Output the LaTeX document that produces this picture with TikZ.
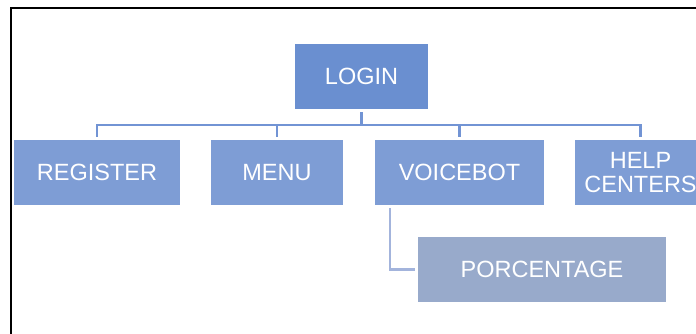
\documentclass[tikz,border=0pt]{standalone}
\usepackage{fontspec}
\setmainfont{Liberation Sans}
\usetikzlibrary{positioning}

\definecolor{topblue}{HTML}{6A8FD0}
\definecolor{midblue}{HTML}{7E9DD5}
\definecolor{lowblue}{HTML}{98AACB}
\definecolor{linkblue}{HTML}{7294D4}
\definecolor{sublinkblue}{HTML}{A3B4DC}

\begin{document}
\begin{tikzpicture}[x=1pt,y=-1pt,
  box/.style={fill=midblue,text=white,minimum height=65pt,inner sep=0pt,
    outer sep=3pt,align=center,font=\fontsize{23.5}{24}\selectfont},
  link/.style={draw=linkblue,line width=2.5pt},
  sublink/.style={draw=sublinkblue,line width=2.5pt}]
% page is 696 x 333, one unit per pixel; the right box runs off the edge
\clip (0,0) rectangle (696,333);
\fill[white] (0,0) rectangle (696,333);
\draw[line width=2pt] (11,8) rectangle (720,360);

% top level
\node[box,fill=topblue,minimum width=133pt] (login) at (361.5,76.5) {LOGIN};

% second level
\node[box,minimum width=166pt] (register) at (97,172.5) {REGISTER};
\node[box,minimum width=132pt] (menu) at (277,172.5) {MENU};
\node[box,minimum width=169pt] (voicebot) at (459.5,172.5) {VOICEBOT};
\node[box,minimum width=131pt] (help) at (640.5,172.5) {HELP\\CENTERS};

% third level
\node[box,fill=lowblue,minimum width=248pt] (percent) at (542,269.5) {PORCENTAGE};

% connectors
\foreach \c in {register,menu,voicebot,help}{
  \draw[link] (login.south) -- ++(0,13) -| (\c.north);}
\draw[sublink] ([xshift=-69.5pt]voicebot.south) |- (percent.west);
\end{tikzpicture}
\end{document}
